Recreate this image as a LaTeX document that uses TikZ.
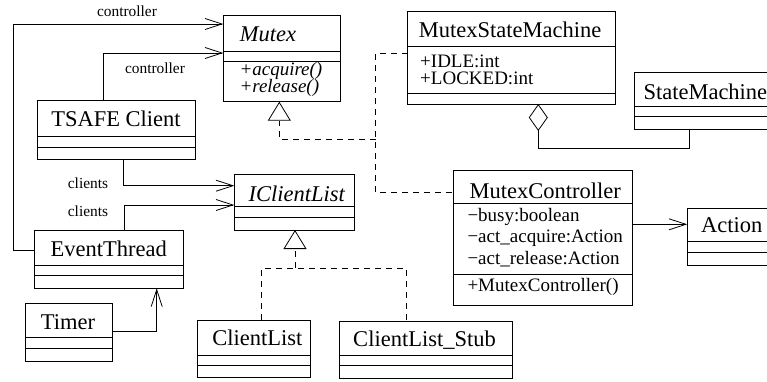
\documentclass[tikz,border=0pt]{standalone}
\usepackage{fontspec}
\setmainfont{Liberation Serif}
\usetikzlibrary{arrows.meta}
\begin{document}
\begin{tikzpicture}[x=1pt,y=-1pt,
 cls/.style={draw, line width=0.85pt, inner sep=0pt, outer sep=0pt, anchor=north west},
 sepl/.style={line width=0.85pt},
 ttl/.style={font=\fontsize{22.5}{25}\selectfont, inner sep=0pt},
 mem/.style={font=\fontsize{19}{21}\selectfont, inner sep=0pt, anchor=west},
 lbl/.style={font=\fontsize{15.4}{17}\selectfont, inner sep=0pt},
 assoc/.style={line width=0.8pt, -{Straight Barb[length=17pt,width=11pt,line width=0.8pt]}},
 real/.style={line width=0.8pt, dash pattern=on 6pt off 5pt},
 gen/.style={real, -{Triangle[open,length=19pt,width=23pt,line width=0.8pt]}},
 aggr/.style={line width=0.8pt, -{Diamond[open,length=27pt,width=19pt,line width=0.8pt]}},
]
\useasboundingbox (0,0) rectangle (767,381);
\clip (0,0) rectangle (767,381);
% classes
\node[cls, minimum width=117.4pt, minimum height=86.7pt] (mutex) at (223.3,15) {};
\draw[sepl] (mutex.west |- 0,51.7) -- (mutex.east |- 0,51.7);
\draw[sepl] (mutex.west |- 0,61.7) -- (mutex.east |- 0,61.7);
\node[ttl] (mutexT) at (268,34.3) {\itshape Mutex};
\node[mem] (mutexM1) at (239.3,71) {\itshape +acquire()};
\node[mem] (mutexM2) at (239.3,88.3) {\itshape +release()};

\node[cls, minimum width=158pt, minimum height=59pt] (tsafe) at (37,100) {};
\draw[sepl] (tsafe.west |- 0,136) -- (tsafe.east |- 0,136);
\draw[sepl] (tsafe.west |- 0,147) -- (tsafe.east |- 0,147);
\node[ttl] (tsafeT) at (116,119) {TSAFE Client};

\node[cls, minimum width=120pt, minimum height=56pt] (icl) at (234.3,174) {};
\draw[sepl] (icl.west |- 0,206.7) -- (icl.east |- 0,206.7);
\draw[sepl] (icl.west |- 0,217.3) -- (icl.east |- 0,217.3);
\node[ttl] (iclT) at (296.7,193.3) {\itshape IClientList};

\node[cls, minimum width=149pt, minimum height=58.3pt] (evt) at (34.3,230) {};
\draw[sepl] (evt.west |- 0,265) -- (evt.east |- 0,265);
\draw[sepl] (evt.west |- 0,275.7) -- (evt.east |- 0,275.7);
\node[ttl] (evtT) at (108.7,249) {EventThread};

\node[cls, minimum width=87.7pt, minimum height=57.7pt] (timer) at (25,303.3) {};
\draw[sepl] (timer.west |- 0,337.7) -- (timer.east |- 0,337.7);
\draw[sepl] (timer.west |- 0,348.3) -- (timer.east |- 0,348.3);
\node[ttl] (timerT) at (68,321.7) {Timer};

\node[cls, minimum width=113pt, minimum height=57.7pt] (cl) at (197.7,320) {};
\draw[sepl] (cl.west |- 0,355) -- (cl.east |- 0,355);
\draw[sepl] (cl.west |- 0,365) -- (cl.east |- 0,365);
\node[ttl] (clT) at (257.4,338) {ClientList};

\node[cls, minimum width=173.3pt, minimum height=56.6pt] (stub) at (339,321.7) {};
\draw[sepl] (stub.west |- 0,355.7) -- (stub.east |- 0,355.7);
\draw[sepl] (stub.west |- 0,365.7) -- (stub.east |- 0,365.7);
\node[ttl] (stubT) at (424.5,340) {ClientList\_Stub};

\node[cls, minimum width=207.3pt, minimum height=92.3pt] (msm) at (407.7,11.7) {};
\draw[sepl] (msm.west |- 0,46.7) -- (msm.east |- 0,46.7);
\draw[sepl] (msm.west |- 0,93.3) -- (msm.east |- 0,93.3);
\node[ttl] (msmT) at (510,30) {MutexStateMachine};
\node[mem] (msmM1) at (420,61) {+IDLE:int};
\node[mem] (msmM2) at (420,78.3) {+LOCKED:int};

\node[cls, minimum width=150pt, minimum height=56.7pt] (sm) at (634.3,72.3) {};
\draw[sepl] (sm.west |- 0,106.7) -- (sm.east |- 0,106.7);
\draw[sepl] (sm.west |- 0,116.7) -- (sm.east |- 0,116.7);
\node[ttl, anchor=west] (smT) at (643.3,91.7) {StateMachine};

\node[cls, minimum width=179pt, minimum height=135.7pt] (mc) at (453.3,170) {};
\draw[sepl] (mc.west |- 0,203.3) -- (mc.east |- 0,203.3);
\draw[sepl] (mc.west |- 0,274.3) -- (mc.east |- 0,274.3);
\node[ttl] (mcT) at (545.3,191) {MutexController};
\node[mem] (mcM1) at (467.3,217.3) {\char"2212busy:boolean};
\node[mem] (mcM2) at (467.3,238.3) {\char"2212act\_acquire:Action};
\node[mem] (mcM3) at (467.3,259.3) {\char"2212act\_release:Action};
\node[mem] (mcM4) at (467.3,286.7) {+MutexController()};

\node[cls, minimum width=100pt, minimum height=56.7pt] (act) at (687.3,208.3) {};
\draw[sepl] (act.west |- 0,241.7) -- (act.east |- 0,241.7);
\draw[sepl] (act.west |- 0,252.7) -- (act.east |- 0,252.7);
\node[ttl] (actT) at (731.7,225) {Action};

% associations
\draw[assoc] (evt.west |- 0,250.7) -| (13,24) -- (mutex.west |- 0,24);
\draw[assoc] (tsafe.north -| 103,0) |- (mutex.west |- 0,53);
\draw[assoc] (tsafe.south -| 123,0) |- (icl.west |- 0,185.7);
\draw[assoc] (evt.north -| 124.3,0) |- (icl.west |- 0,205);
\draw[assoc] (timer.east |- 0,331) -| (evt.south -| 156.7,0);
\draw[assoc] (mc.east |- 0,224.3) -- (act.west |- 0,224.3);
\node[lbl] (l1) at (127,11) {controller};
\node[lbl] (l2) at (155,68) {controller};
\node[lbl] (l3) at (88,183.3) {clients};
\node[lbl] (l4) at (88,211) {clients};

% realizations
\draw[real] (msm.west |- 0,53) -| (375.7,192.6) -- (mc.west |- 0,192.6);
\draw[gen] (375.7,139.3) -| (mutex.south -| 279.3,0);
\draw[real] (cl.north -| 261.7,0) |- (406,268.3) -- (stub.north -| 406,0);
\draw[gen] (295,268.3) -- (icl.south -| 295,0);

% aggregation
\draw[aggr] (sm.south -| 689,0) |- (538.3,148.3) -- (msm.south -| 538.3,0);
\end{tikzpicture}
\end{document}
